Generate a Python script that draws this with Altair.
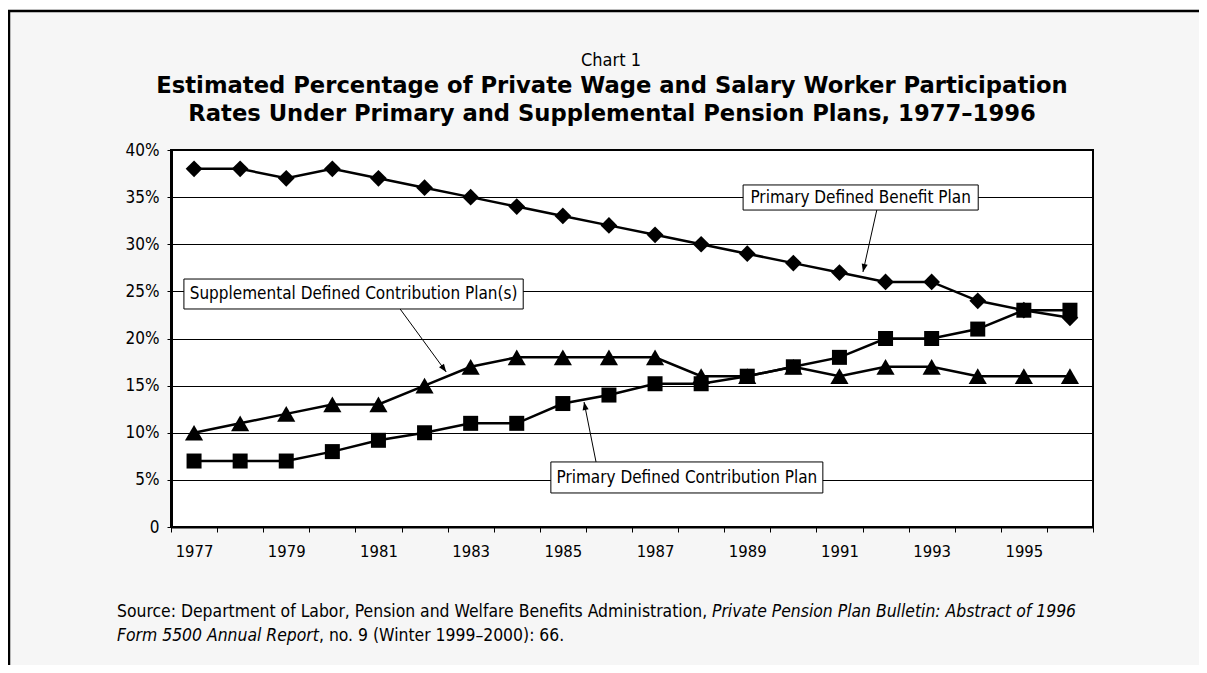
import altair as alt
import pandas as pd

# ---------------- data ----------------
years = list(range(1977, 1997))
primary_db = [38, 38, 37, 38, 37, 36, 35, 34, 33, 32, 31, 30, 29, 28, 27, 26, 26, 24, 23, 22.2]
supplemental_dc = [10, 11, 12, 13, 13, 15, 17, 18, 18, 18, 18, 16, 16, 17, 16, 17, 17, 16, 16, 16]
primary_dc = [7, 7, 7, 8, 9.2, 10, 11, 11, 13.1, 14, 15.2, 15.2, 16, 17, 18, 20, 20, 21, 23, 23]

y_tick_values = [0, 5, 10, 15, 20, 25, 30, 35, 40]
x_tick_values = [y + 0.5 for y in range(1976, 1997)] + list(range(1977, 1997))

# annotation call-outs (data coordinates)
ann_labels = ["Primary Defined Benefit Plan",
              "Supplemental Defined Contribution Plan(s)",
              "Primary Defined Contribution Plan"]
ann_box_x1 = [1988.91, 1976.78, 1984.74]
ann_box_x2 = [1994.01, 1984.14, 1990.64]
ann_box_y1 = [36.29, 26.31, 6.90]
ann_box_y2 = [33.63, 23.13, 3.61]
ann_text_x = [1991.46, 1980.46, 1987.69]
ann_text_y = [34.96, 24.72, 5.25]
ann_line_x1 = [1991.81, 1981.47, 1985.72]
ann_line_y1 = [33.63, 23.13, 6.90]
ann_tip_x = [1991.51, 1982.47, 1985.46]
ann_tip_y = [27.06, 16.45, 13.26]
ann_tip_angle = [192.7, 143.9, 348.7]

title_chart = "Chart 1"
title_lines = ["Estimated Percentage of Private Wage and Salary Worker Participation",
               "Rates Under Primary and Supplemental Pension Plans, 1977\u20131996"]
source_parts = [
    ("Source: Department of Labor, Pension and Welfare Benefits Administration,", "normal"),
    ("Private Pension Plan Bulletin: Abstract of 1996", "italic"),
    ("Form 5500 Annual Report", "italic"),
    (", no. 9 (Winter 1999\u20132000): 66.", "normal"),
]

# ---------------- styling ----------------
NARROW = "DejaVu Sans Condensed, sans-serif"
BOLDFONT = "DejaVu Sans, sans-serif"
W, H = 922, 377
CW, CH = 1191, 657  # canvas size

df = pd.DataFrame({"year": years, "db": primary_db, "sdc": supplemental_dc, "pdc": primary_dc})
ann = pd.DataFrame({
    "label": ann_labels, "bx1": ann_box_x1, "bx2": ann_box_x2, "by1": ann_box_y1, "by2": ann_box_y2,
    "tx": ann_text_x, "ty": ann_text_y, "lx1": ann_line_x1, "ly1": ann_line_y1,
    "px": ann_tip_x, "py": ann_tip_y, "ang": ann_tip_angle,
})
one = pd.DataFrame({"d": [0]})

xscale = alt.Scale(domain=[1976.5, 1996.5], nice=False, zero=False)
yscale = alt.Scale(domain=[0, 40], nice=False, zero=True)

xaxis = alt.Axis(
    values=x_tick_values, title=None, grid=False,
    labelExpr="datum.value % 2 == 1 ? '' + datum.value : ''",
    labelOverlap=False, labelFlush=False,
    tickOpacity={"condition": {"test": "datum.value % 1 == 0", "value": 0}, "value": 1},
    tickSize=5, tickColor="black", tickWidth=1,
    domainColor="black", domainWidth=2,
    labelFont=NARROW, labelFontSize=16.5, labelColor="black", labelPadding=11,
)
yaxis = alt.Axis(
    values=y_tick_values, title=None, grid=True, gridColor="black", gridWidth=1,
    labelExpr="datum.value == 0 ? '0' : datum.value + '%'",
    tickSize=4, tickColor="black", tickWidth=1,
    domainColor="black", domainWidth=3,
    labelFont=NARROW, labelFontSize=17, labelColor="black", labelPadding=8,
)


def X(f):
    return alt.X(f, type="quantitative", scale=xscale, axis=xaxis)


def Y(f):
    return alt.Y(f, type="quantitative", scale=yscale, axis=yaxis)


base = alt.Chart(df)
layers = []
series = [("db", "diamond", 280), ("sdc", "triangle-up", 330), ("pdc", "square", 225)]
for field, shape, size in series:
    layers.append(base.mark_line(color="black", strokeWidth=2.5).encode(x=X("year"), y=Y(field)))
    layers.append(base.mark_point(shape=shape, size=size, filled=True, color="black", opacity=1)
                  .encode(x=X("year"), y=Y(field)))

a = alt.Chart(ann)
layers.append(a.mark_rule(color="black", strokeWidth=1).encode(x=X("lx1"), y=Y("ly1"), x2="px", y2="py"))
layers.append(a.mark_point(shape="M0,0L-0.38,1L0.38,1Z", size=256, filled=True, color="black", opacity=1)
              .encode(x=X("px"), y=Y("py"), angle=alt.Angle("ang:Q", scale=None)))
layers.append(a.mark_rect(fill="white", stroke="black", strokeWidth=1)
              .encode(x=X("bx1"), x2="bx2", y=Y("by1"), y2="by2"))
layers.append(a.mark_text(font=NARROW, fontSize=17, color="black", align="center", baseline="middle")
              .encode(x=X("tx"), y=Y("ty"), text="label:N"))

# frame decoration and titles
o = alt.Chart(one)
right_edge = CW - 163
layers.append(o.mark_rect(fill="white").encode(x=alt.value(-163), x2=alt.value(right_edge), y=alt.value(-142), y2=alt.value(-140.5)))
layers.append(o.mark_rule(color="black", strokeWidth=2.5).encode(x=alt.value(-163), x2=alt.value(right_edge), y=alt.value(-139)))
layers.append(o.mark_rule(color="black", strokeWidth=2.5).encode(x=alt.value(-162), y=alt.value(-140), y2=alt.value(CH - 142)))
layers.append(o.mark_text(font=NARROW, fontSize=18, color="black", align="center", baseline="alphabetic",
                          text=title_chart).encode(x=alt.value(440), y=alt.value(-84)))
layers.append(o.mark_text(font=BOLDFONT, fontSize=22.7, fontWeight="bold", color="black", align="center",
                          baseline="alphabetic", text=title_lines[0]).encode(x=alt.value(441), y=alt.value(-57)))
layers.append(o.mark_text(font=BOLDFONT, fontSize=22.7, fontWeight="bold", color="black", align="center",
                          baseline="alphabetic", text=title_lines[1]).encode(x=alt.value(441), y=alt.value(-29)))
src_pos = [(-54, 467), (541, 467), (-54, 491), (148, 491)]
for (txt, style), (px, py) in zip(source_parts, src_pos):
    layers.append(o.mark_text(font=NARROW, fontSize=17.4, fontStyle=style, color="black", align="left",
                              baseline="alphabetic", text=txt).encode(x=alt.value(px), y=alt.value(py)))

chart = alt.layer(*layers).properties(
    width=W, height=H,
    autosize=alt.AutoSizeParams(type="none"),
    padding={"left": 163, "top": 142, "right": CW - 163 - W, "bottom": CH - 142 - H},
    background="#f6f6f6",
).configure_view(fill="white", stroke="black", strokeWidth=2)

chart.save("out.html", embed_options={"renderer": "svg", "actions": False})
